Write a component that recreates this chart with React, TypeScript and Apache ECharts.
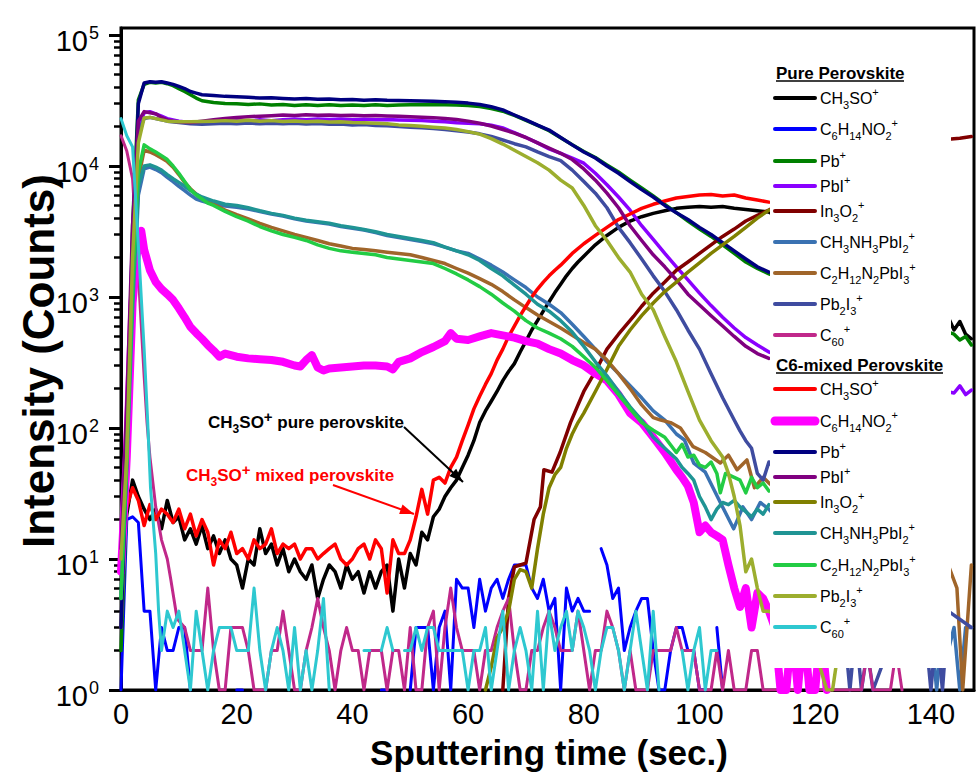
import React, { useEffect, useRef } from "react";
import * as echarts from "echarts";

type Pt = [number, number | null];

// ---------------- axes ----------------
const X_MAX = 147.45;
const X_TICKS = [0, 20, 40, 60, 80, 100, 120, 140];
const Y_MAX_EXP = 5.0534; // top of frame, a bit above 10^5
const Y_DECADES = [0, 1, 2, 3, 4, 5];
const MINOR_FACTORS = [2, 3, 4, 5, 6, 7, 8, 9];

// ---------------- Pure perovskite ----------------
const pureCH3SO: Pt[] = [
  [0, 8], [1, 22], [2, 40], [3, 30], [4, 24], [5, 20], [6, 24], [7, 17], [8, 28], [9, 19], [10, 21], [11, 14], [12, 17], [13, 13], [14, 18], [15, 12], [16, 15], [17, 11], [18, 14], [19, 10], [20, 9], [21, 6], [22, 10], [23, 9], [24, 17], [25, 11], [26, 13], [27, 9], [28, 12], [29, 8], [30, 10], [31, 8], [32, 7], [33, 9], [34, 5], [35, 7], [36, 9], [37, 8], [38, 6], [39, 9], [40, 7], [41, 8], [42, 5.5], [43, 8], [44, 6], [45, 8], [46, 9], [47, 4], [48, 10], [49, 6], [50, 11], [51, 9], [52, 16], [53, 14], [54, 21], [55, 24], [56, 30], [57, 35], [58, 40], [59, 50], [60, 62], [61, 80], [62, 110], [63, 135], [64, 160], [65, 190], [66, 230], [67, 270], [68, 310], [69, 380], [70, 460], [71, 560], [72, 660], [73, 780], [74, 920], [75, 1080], [76, 1250], [77, 1450], [78, 1650], [79, 1850], [80, 2050], [82, 2500], [84, 2950], [86, 3400], [88, 3800], [90, 4100], [92, 4350], [94, 4550], [96, 4750], [98, 4850], [100, 4900], [102, 4850], [104, 4900], [106, 4750], [108, 4650], [110, 4550], [112, 4450], [120, 3000], [130, 1500], [140, 800], [143, 700], [144, 560], [145, 650], [146, 520], [147, 480],
];
const pureC6H14NO2: Pt[] = [
  [0, 1], [1, 20], [2, 21], [3, 19], [4, 4], [5, 4], [6, 1], [7, 3], [8, 2], [9, 2], [10, 3], [11, 3], [12, 1], [13, null], [20, 1], [21, 1], [22, null], [45, 1], [46, 1], [47, null], [50, 1], [51, 3], [52, 3], [53, 3], [54, 1], [55, 3], [56, 4], [57, 1], [58, 7], [59, 6], [60, 6], [61, 3], [62, 7], [63, 4], [64, 6], [65, 7], [66, 5], [67, 7], [68, 9], [69, 9], [70, 9], [71, 6], [72, 5], [73, 7], [74, 4], [75, 5], [76, 1], [77, 6], [78, 4], [79, 5], [80, 4], [81, 4], [82, null], [83, 12], [84, 9], [85, 5], [86, 6], [87, 2], [88, 3], [89, 4], [90, 5], [91, 5], [92, 2], [93, 1], [94, 1], [95, 2], [96, 3], [97, 3], [98, 2], [99, 2], [100, 1], [101, 1], [102, null], [103, 3], [104, 1], [105, null],
];
const purePb: Pt[] = [
  [0, 2], [1, 30], [2, 3500], [3, 32000], [4, 42000], [5, 43500], [6, 43000], [7, 43500], [8, 42500], [9, 41000], [10, 39000], [11, 37000], [12, 35000], [13, 33000], [14, 31500], [16, 30500], [18, 30000], [20, 29800], [22, 29500], [24, 29800], [26, 29200], [28, 29500], [30, 29000], [32, 29400], [34, 29000], [36, 29300], [38, 29000], [40, 29200], [42, 29000], [44, 29300], [46, 29000], [48, 29200], [50, 29400], [52, 29300], [54, 29500], [56, 29400], [58, 29200], [60, 29000], [62, 28500], [64, 27500], [66, 26200], [68, 24300], [70, 22300], [72, 20400], [74, 18600], [76, 16400], [78, 14500], [80, 12900], [82, 11600], [84, 10200], [86, 9000], [88, 7800], [90, 6800], [92, 5900], [94, 5100], [96, 4400], [98, 3800], [100, 3300], [102, 2900], [104, 2500], [106, 2150], [108, 1850], [110, 1650], [112, 1500], [120, 1100], [130, 800], [140, 600], [144, 520], [145, 470], [146, 500], [147, 430],
];
const purePbI: Pt[] = [
  [0, 10], [1, 100], [2, 3000], [3, 20000], [4, 25500], [5, 26000], [6, 25000], [7, 24000], [8, 23000], [9, 22500], [10, 22000], [12, 21500], [14, 21500], [16, 21800], [18, 22000], [20, 22200], [22, 22000], [24, 22500], [26, 22200], [28, 22500], [30, 22800], [32, 22500], [34, 22800], [36, 22600], [38, 22800], [40, 22500], [42, 22700], [44, 22500], [46, 22600], [48, 22400], [50, 22300], [52, 22200], [54, 22000], [56, 21800], [58, 21400], [60, 21200], [62, 21000], [64, 20500], [66, 19500], [68, 18000], [70, 16500], [72, 15000], [74, 13500], [76, 12500], [78, 11500], [80, 10500], [82, 8800], [84, 7200], [86, 5800], [88, 4600], [90, 3500], [92, 2750], [94, 2150], [96, 1700], [98, 1350], [100, 1070], [102, 860], [104, 700], [106, 580], [108, 490], [110, 430], [112, 380], [120, 300], [130, 240], [140, 200], [144, 185], [145, 210], [146, 180], [147, 195],
];
const pureIn3O2: Pt[] = [
  [66, 1], [67, 5], [68, 8.7], [69, 9], [70, 9.3], [71.4, 20], [72.5, 25], [73.1, 48], [74.5, 46], [75.9, 65], [77.7, 110], [79, 150], [80, 190], [82, 270], [84, 400], [86, 520], [88.6, 710], [90, 850], [92, 1070], [94, 1300], [96, 1600], [98, 1850], [100, 2150], [102, 2500], [104, 2900], [106, 3300], [108, 3800], [110, 4200], [112, 4600], [120, 8000], [130, 12000], [140, 15000], [143, 16000], [145, 16300], [147, 16800],
];
const pureCH3NH3PbI2: Pt[] = [
  [0, 3], [1, 30], [2, 600], [3, 6000], [4, 9500], [5, 9800], [6, 9400], [7, 8900], [8, 8200], [9, 7600], [10, 7000], [11, 6500], [12, 6000], [13, 5600], [14, 5400], [16, 5100], [18, 4950], [20, 4850], [22, 4700], [24, 4500], [26, 4300], [28, 4150], [30, 3950], [32, 3800], [34, 3700], [36, 3600], [38, 3450], [40, 3350], [42, 3250], [44, 3100], [46, 2950], [48, 2850], [50, 2750], [52, 2650], [54, 2550], [56, 2400], [58, 2250], [60, 2150], [62, 1950], [64, 1750], [66, 1550], [68, 1350], [70, 1180], [72, 1000], [74, 880], [76, 760], [78, 620], [80, 500], [82, 400], [84, 320], [86, 260], [88, 210], [90, 170], [92, 135], [94, 115], [96, 90], [97.4, 81], [99, 54], [101, 46], [103.6, 27], [105.9, 17], [107.5, 25], [109, 20], [110.5, 27], [112, 24], [120, 10], [130, 3], [140, 3], [141, 1], [142, 3], [143, 2], [144, 3], [145, 1], [146, 3], [147, 3],
];
const pureC2H12N2PbI3: Pt[] = [
  [0, 3], [1, 40], [2, 1000], [3, 8000], [4, 13200], [5, 12800], [6, 12200], [7, 11500], [8, 10800], [9, 9800], [10, 8600], [11, 7500], [12, 6700], [13, 6100], [14, 5700], [15, 5300], [16, 5100], [18, 4600], [20, 4250], [22, 3950], [24, 3650], [26, 3400], [28, 3200], [30, 3000], [32, 2850], [34, 2700], [36, 2550], [38, 2450], [40, 2350], [42, 2300], [44, 2250], [46, 2200], [48, 2150], [50, 2100], [52, 2000], [54, 1900], [56, 1800], [58, 1650], [60, 1520], [62, 1380], [64, 1250], [66, 1100], [68, 950], [70, 830], [72, 730], [74, 650], [76, 580], [78, 510], [80, 450], [82, 400], [84, 330], [86, 260], [88, 200], [90, 150], [92, 120], [93.3, 115], [95, 110], [96.7, 100], [98.9, 72], [101, 65], [103.6, 54], [105, 62], [106.5, 48], [108.2, 57], [109.5, 35], [111, 42], [112, 38], [120, 20], [130, 10], [140, 8], [143, 9], [144.5, 6], [145.5, 1], [147, 9],
];
const purePb2I3: Pt[] = [
  [0, 10], [1, 80], [2, 2500], [3, 18000], [4, 23000], [5, 23500], [6, 23000], [7, 22500], [8, 22000], [10, 21500], [12, 21000], [14, 20800], [16, 21000], [18, 21200], [20, 21000], [22, 21300], [24, 21000], [26, 21200], [28, 21000], [30, 21200], [32, 20900], [34, 21100], [36, 20800], [38, 20900], [40, 20600], [42, 20700], [44, 20400], [46, 20300], [48, 20000], [50, 19800], [52, 19600], [54, 19300], [56, 19000], [58, 18600], [60, 18200], [62, 17600], [64, 16800], [66, 15800], [68, 14800], [70, 14000], [72, 12800], [74, 11800], [76, 11000], [78, 9300], [80, 7600], [82, 6200], [84, 4800], [86, 3400], [88, 2600], [90, 1950], [92, 1450], [94, 1100], [96, 800], [98, 560], [100, 400], [102, 260], [104, 170], [106, 115], [107, 95], [108, 80], [109, 70], [110, 45], [111, 40], [112, 55], [120, 20], [124, 4], [125, 3], [126, 1], [127, 3], [128, 1], [129, 2], [130, 1], [135, 4], [139, 3], [140, 1], [141, 3], [142, 1], [143, 4], [147, 3],
];
const pureC60Head: Pt[] = [
  [0, 17000], [1, 13000], [2, 8000], [3, 1500], [4, 250], [4.5, 110], [5, 60], [6, 25], [7, 14], [8, 10], [8.6, 7], [9.7, 3.5],
];
const PURE_C60_TAIL_START = 11;
const pureC60Tail: (number | null)[] = [
  3, 2, 2, 2, 6, 2, 1, 1, 3, 3, 3, 2, 1, 1, 1, 2, 2, 4, 2, 1, 1, 2, 3, 5, 3, 2, 1, 2, 3, 2, 2, 1, 2, 2, 2, 1, 2, 2, 1, 3, 1, 1, 3, 4, 1, 3, 6, 3, 2, 2, 2, 1, 2, 2, 3, 4, 5, 2, 1, 1, 2, 2, 3, 4, 3, 2, 2, 2, 4, 2, 1, 2, 2, 4, 3, 2, 1, 2, 1, 1, 1, 2, 2, 2, 2, 3, 2, 2, 2, 1, 1, 1, 2, 1, 2, 1, 1, 1, 2, 2, 1, 1, 1, 1, 1, 1, 1, 2, 1, 1, 1, 1, 1, 1, 1, 1, 1, 1, 2, 1, 1, 1, 1, 2, 1,
];

// ---------------- C6-mixed perovskite ----------------
const mixedCH3SO: Pt[] = [
  [0, 12], [1, 25], [2, 35], [3, 28], [4, 18], [5, 26], [6, 20], [7, 24], [8, 22], [9, 19], [10, 24], [11, 17], [12, 22], [13, 15], [14, 20], [15, 16], [16, 9], [17, 14], [18, 12], [19, 16], [20, 11], [21, 12], [22, 10], [23, 14], [24, 12], [25, 13], [26, 17], [27, 11], [28, 13], [29, 12], [30, 13], [31, 10], [32, 12], [33, 12], [34, 10], [35, 11], [36, 12], [37, 13], [38, 10], [39, 9], [40, 10], [41, 12], [42, 13], [43, 10], [44, 14], [45, 12], [46, 5.5], [47, 14], [48, 11], [49, 11], [50, 14], [51, 21], [52, 34], [53, 22], [54, 40], [55, 42], [56, 38], [57, 50], [58, 60], [59, 80], [60, 105], [61, 140], [62, 175], [63, 215], [64, 260], [65, 330], [66, 400], [67, 500], [68, 600], [69, 720], [70, 850], [71, 1000], [72, 1150], [73, 1300], [74, 1450], [75, 1600], [76, 1750], [78, 2150], [80, 2550], [82, 2950], [84, 3400], [86, 3900], [88, 4300], [90, 4750], [92, 5100], [94, 5400], [96, 5700], [98, 5850], [100, 6000], [102, 6050], [104, 5900], [106, 6000], [108, 5700], [110, 5500], [112, 5300],
];
const mixedC6H14NO2: Pt[] = [
  [0, 8], [1, 60], [2, 900], [3, 2800], [3.5, 3200], [4, 2300], [5, 1600], [6, 1300], [7, 1150], [8, 1050], [9, 950], [10, 820], [11, 700], [12, 590], [13, 530], [14, 480], [15, 430], [16, 390], [17, 350], [18, 370], [19, 360], [20, 350], [22, 340], [24, 335], [26, 330], [28, 320], [30, 300], [31, 295], [32, 330], [33, 360], [34, 290], [35, 275], [36, 285], [38, 290], [40, 295], [42, 300], [44, 300], [46, 295], [47, 280], [48, 320], [50, 340], [52, 380], [54, 415], [56, 460], [57, 530], [58, 480], [60, 470], [62, 500], [64, 530], [66, 510], [68, 490], [70, 460], [72, 440], [74, 400], [76, 370], [78, 330], [80, 300], [82, 260], [84, 230], [86, 180], [88, 130], [90, 110], [92, 85], [94, 65], [96, 48], [97, 42], [98, 36], [99, 27], [100, 16], [101, 18], [102, 16], [103, 15], [104, 14], [105, 9], [106, 6], [107, 4.3], [108, 6], [109, 3], [110, 5.5], [111, 5], [112, 4], [113, 3], [114, 1], [115, 1], [116, 3], [117, 1], [118, 3], [119, 1], [120, 1], [121, 3], [122, 1], [123, null],
];
const mixedPb: Pt[] = [
  [0, 3], [1, 60], [2, 2500], [3, 30000], [4, 43000], [5, 44000], [6, 43500], [7, 44000], [8, 43000], [9, 42000], [10, 40500], [11, 39000], [12, 37000], [13, 36000], [14, 35000], [16, 34500], [18, 34000], [20, 33800], [22, 33500], [24, 33000], [26, 33200], [28, 32800], [30, 32500], [32, 32800], [34, 32300], [36, 32500], [38, 32000], [40, 32200], [42, 31800], [44, 32000], [46, 31700], [48, 31600], [50, 31500], [52, 31400], [54, 31200], [56, 31000], [58, 30600], [60, 30200], [62, 29500], [64, 28300], [66, 26800], [68, 24500], [70, 22500], [72, 20500], [74, 18800], [76, 16500], [78, 14500], [80, 12800], [82, 11500], [84, 10000], [86, 8800], [88, 7600], [90, 6600], [92, 5800], [94, 5000], [96, 4400], [98, 3900], [100, 3400], [102, 3000], [104, 2600], [106, 2250], [108, 1950], [110, 1700], [112, 1550],
];
const mixedPbI: Pt[] = [
  [0, 12], [1, 150], [2, 3500], [3, 22000], [4, 26000], [5, 25500], [6, 25000], [7, 23500], [8, 22500], [9, 22000], [10, 21800], [12, 21500], [14, 22000], [16, 22500], [18, 23000], [20, 23500], [22, 23800], [24, 24000], [26, 24200], [28, 24500], [30, 24300], [32, 24600], [34, 24400], [36, 24500], [38, 24300], [40, 24400], [42, 24200], [44, 24300], [46, 24100], [48, 24000], [50, 23800], [52, 23600], [54, 23400], [56, 23000], [58, 22600], [60, 22000], [62, 21200], [64, 20200], [66, 19000], [68, 17800], [70, 16500], [72, 15000], [74, 13700], [76, 12500], [78, 11200], [80, 9500], [82, 7800], [84, 6200], [86, 4800], [88, 3500], [90, 2700], [92, 2100], [94, 1700], [96, 1350], [98, 1050], [100, 870], [102, 720], [104, 600], [106, 500], [108, 420], [110, 370], [112, 340],
];
const mixedIn3O2: Pt[] = [
  [63, 1], [64, 1.5], [65, 2.5], [66, 3], [67, 4], [68, 7], [69, 8.3], [70, 8], [71, 6], [72, 12], [73, 22], [74, 35], [75, 44], [76, 50], [77, 70], [78, 90], [79, 110], [80, 130], [82, 190], [84, 280], [86, 420], [88, 560], [90, 720], [92, 900], [94, 1100], [96, 1300], [98, 1550], [100, 1820], [102, 2150], [104, 2500], [106, 2900], [108, 3400], [110, 4000], [112, 4600],
];
const mixedCH3NH3PbI2: Pt[] = [
  [0, 5], [1, 50], [2, 800], [3, 7000], [4, 10000], [5, 10200], [6, 9800], [7, 9300], [8, 8600], [9, 8000], [10, 7500], [11, 7000], [12, 6500], [13, 6100], [14, 5800], [16, 5400], [18, 5100], [20, 5000], [22, 4800], [24, 4550], [26, 4350], [28, 4200], [30, 4000], [32, 3850], [34, 3750], [36, 3650], [38, 3500], [40, 3400], [42, 3280], [44, 3150], [46, 3000], [48, 2900], [50, 2800], [52, 2700], [54, 2600], [56, 2400], [58, 2250], [60, 2100], [62, 1900], [64, 1650], [66, 1450], [68, 1230], [70, 1050], [72, 880], [74, 780], [76, 660], [78, 540], [80, 420], [82, 320], [84, 250], [86, 190], [88, 145], [90, 115], [92, 85], [94, 70], [96, 58], [97, 50], [98, 45], [99, 40], [100, 30], [101, 25], [102, 20], [103, 24], [104, 27], [105, 26], [106, 28], [107, 25], [108, 23], [109, 21], [110, 24], [111, 22], [112, 26],
];
const mixedC2H12N2PbI3: Pt[] = [
  [0, 5], [1, 60], [2, 1200], [3, 9000], [4, 14500], [5, 13500], [6, 12800], [7, 12000], [8, 11200], [9, 10000], [10, 8800], [11, 7600], [12, 6600], [13, 6000], [14, 5600], [15, 5200], [16, 5000], [18, 4500], [20, 4100], [22, 3800], [24, 3450], [26, 3200], [28, 3000], [30, 2850], [32, 2700], [34, 2500], [36, 2350], [38, 2250], [40, 2200], [42, 2150], [44, 2100], [46, 2000], [48, 1950], [50, 1900], [52, 1850], [54, 1800], [56, 1650], [58, 1500], [60, 1350], [62, 1200], [64, 1050], [66, 900], [68, 780], [70, 660], [72, 580], [74, 530], [76, 480], [78, 420], [80, 350], [82, 290], [84, 230], [86, 180], [88, 140], [90, 110], [92, 96], [94, 85], [96, 65], [97, 75], [98, 60], [99, 62], [100, 52], [101, 50], [102, 55], [103, 45], [103.6, 32], [104.5, 45], [106, 42], [107, 40], [108, 32], [109, 42], [110, 35], [111, 38], [112, 33],
];
const mixedPb2I3: Pt[] = [
  [0, 10], [1, 60], [2, 2000], [3, 15000], [4, 23300], [5, 23500], [6, 23000], [7, 22500], [8, 22000], [10, 21800], [12, 21800], [14, 21900], [16, 22000], [18, 22200], [20, 22000], [22, 22300], [24, 22000], [26, 22200], [28, 21900], [30, 22100], [32, 21800], [34, 22000], [36, 21700], [38, 21800], [40, 21500], [42, 21400], [44, 21200], [46, 21000], [48, 20600], [50, 20400], [52, 20100], [54, 19800], [56, 19500], [58, 19000], [60, 18300], [62, 17500], [64, 16200], [66, 14700], [68, 13200], [70, 11800], [72, 10600], [74, 9300], [76, 7800], [78, 6800], [80, 5000], [82, 3500], [84, 2700], [86, 2000], [88, 1550], [90, 1050], [92, 800], [94, 500], [96, 320], [98, 190], [100, 115], [102, 80], [104, 60], [105, 45], [106, 30], [107, 18], [108, 8], [109, 10], [110, 6], [111, 4], [112, 4], [116, 3], [120, 2], [122, 1], [123, 1], [124, 2], [125, null],
];
const mixedC60Head: Pt[] = [
  [0, 23000], [1, 17000], [2, 14000], [3, 2500], [4, 400], [4.6, 115], [5.1, 35], [6, 11], [6.5, 4], [7, 2],
];
const MIXED_C60_TAIL_START = 8;
const mixedC60Tail: (number | null)[] = [
  4, 3, 4, 2, 1, 4, 2, 1, 2, 3, 3, 3, 2, 2, 2, 6, 2, 1, 2, 3, 2, 1, 3, 1, 2, 1, 2, 5, 1, null, null, 2, null, null, 2, 2, null, 2, 3, 2, null, 2, 2, 3, 2, 3, 3, 2, 2, 2, 2, 2, 1, 2, 2, 3, 1, 2, 4, 1, 2, 3, 2, 1, 4, 1, 4, 2, 3, 4, 2, 4, 3, 2, 1, 2, 3, 3, 2, 1, 2, 4, 2, 1, 4, 1, null, null, null, 2, 1, 2, 3, 1, 2, 2,
];

// legend labels: "_n" = subscript, "^+" = superscript
const SERIES_DEFS = [
  { group: "pure", label: "CH_3SO^+", color: "#000000", width: 3.5, data: pureCH3SO },
  { group: "pure", label: "C_6H_14NO_2^+", color: "#0000ff", width: 3, data: pureC6H14NO2 },
  { group: "pure", label: "Pb^+", color: "#008000", width: 3.5, data: purePb },
  { group: "pure", label: "PbI^+", color: "#8a00ff", width: 3.5, data: purePbI },
  { group: "pure", label: "In_3O_2^+", color: "#800000", width: 3.5, data: pureIn3O2 },
  { group: "pure", label: "CH_3NH_3PbI_2^+", color: "#3a72b2", width: 3.5, data: pureCH3NH3PbI2 },
  { group: "pure", label: "C_2H_12N_2PbI_3^+", color: "#a0652a", width: 3.5, data: pureC2H12N2PbI3 },
  { group: "pure", label: "Pb_2I_3^+", color: "#3f4ca0", width: 3.5, data: purePb2I3 },
  { group: "pure", label: "C_60^+", color: "#c0288a", width: 3, data: [...pureC60Head, ...pureC60Tail.map((v, i) => [PURE_C60_TAIL_START + i, v] as Pt)] },
  { group: "mixed", label: "CH_3SO^+", color: "#ff0000", width: 3.5, data: mixedCH3SO },
  { group: "mixed", label: "C_6H_14NO_2^+", color: "#ff00ff", width: 8, data: mixedC6H14NO2 },
  { group: "mixed", label: "Pb^+", color: "#000080", width: 3.5, data: mixedPb },
  { group: "mixed", label: "PbI^+", color: "#800080", width: 3.5, data: mixedPbI },
  { group: "mixed", label: "In_3O_2^+", color: "#808000", width: 3.5, data: mixedIn3O2 },
  { group: "mixed", label: "CH_3NH_3PbI_2^+", color: "#1f9494", width: 3.5, data: mixedCH3NH3PbI2 },
  { group: "mixed", label: "C_2H_12N_2PbI_3^+", color: "#22cc44", width: 3.5, data: mixedC2H12N2PbI3 },
  { group: "mixed", label: "Pb_2I_3^+", color: "#9cae2e", width: 3.5, data: mixedPb2I3 },
  { group: "mixed", label: "C_60^+", color: "#2ec8d0", width: 3, data: [...mixedC60Head, ...mixedC60Tail.map((v, i) => [MIXED_C60_TAIL_START + i, v] as Pt)] },
];

const FONT = "'Liberation Sans', Arial, Helvetica, sans-serif";

// layout (pixels)
const LEGEND_BOX = { x: 770, y: 58, w: 181, h: 610 };
const LEGEND_LINE_X = [775, 815];
const LEGEND_TEXT_X = 820;
const PURE_TITLE_Y = 73;
const MIXED_TITLE_Y = 365;
const PURE_ROWS = [98, 129, 161, 186, 211, 242, 273, 304, 335];
const MIXED_ROWS = [389, 421, 452, 477, 502, 533, 565, 596, 627];

function toRich(s: string, n = "n", sub = "sub", sup = "sup"): string {
  let out = "";
  let buf = "";
  const flush = () => {
    if (buf) out += `{${n}|${buf}}`;
    buf = "";
  };
  for (let i = 0; i < s.length; i++) {
    const ch = s[i];
    if (ch === "_") {
      flush();
      let j = i + 1;
      let d = "";
      while (j < s.length && /[0-9]/.test(s[j])) {
        d += s[j];
        j++;
      }
      out += `{${sub}|${d}}`;
      i = j - 1;
    } else if (ch === "^") {
      flush();
      out += `{${sup}|${s[i + 1]}}`;
      i++;
    } else buf += ch;
  }
  flush();
  return out;
}

const legendRich = {
  n: { fontSize: 16, fontFamily: FONT, fill: "#000", lineHeight: 24, verticalAlign: "middle" },
  sub: { fontSize: 11, fontFamily: FONT, fill: "#000", lineHeight: 12, verticalAlign: "bottom" },
  sup: { fontSize: 11, fontFamily: FONT, fill: "#000", lineHeight: 12, verticalAlign: "top" },
};

function arrowHead(x1: number, y1: number, x2: number, y2: number, len = 14, half = 5) {
  const dx = x2 - x1;
  const dy = y2 - y1;
  const L = Math.hypot(dx, dy);
  const ux = dx / L;
  const uy = dy / L;
  const bx = x2 - ux * len;
  const by = y2 - uy * len;
  return [
    [x2, y2],
    [bx - uy * half, by + ux * half],
    [bx + uy * half, by - ux * half],
  ];
}

export default function App() {
  const ref = useRef<HTMLDivElement>(null);

  useEffect(() => {
    document.body.style.margin = "0";
    if (!ref.current) return;
    const chart = echarts.init(ref.current, null, { renderer: "svg" });

    const minor: number[] = [];
    Y_DECADES.forEach((e) =>
      MINOR_FACTORS.forEach((f) => {
        const v = e + Math.log10(f);
        if (v < Y_MAX_EXP) minor.push(v);
      })
    );

    const series = SERIES_DEFS.map((d) => ({
      type: "line",
      name: d.label,
      showSymbol: false,
      symbol: "none",
      connectNulls: false,
      yAxisIndex: 0,
      lineStyle: { color: d.color, width: d.width, join: "round", cap: "round" },
      itemStyle: { color: d.color },
      emphasis: { disabled: true },
      data: d.data.map(([t, c]) => [t, c == null || c <= 0 ? "-" : Math.log10(c)]),
    }));

    const graphics: any[] = [];
    graphics.push({
      type: "rect",
      z: 50,
      shape: { x: LEGEND_BOX.x, y: LEGEND_BOX.y, width: LEGEND_BOX.w, height: LEGEND_BOX.h },
      style: { fill: "#ffffff" },
    });
    const titles = [
      { text: "Pure Perovskite", y: PURE_TITLE_Y, w: 128 },
      { text: "C6-mixed Perovskite", y: MIXED_TITLE_Y, w: 167 },
    ];
    titles.forEach((t) => {
      graphics.push({
        type: "text",
        z: 60,
        x: 776,
        y: t.y,
        style: { text: t.text, fontSize: 17, fontWeight: "bold", fontFamily: FONT, fill: "#000", align: "left", verticalAlign: "middle" },
      });
      graphics.push({
        type: "line",
        z: 60,
        shape: { x1: 776, y1: t.y + 8, x2: 776 + t.w, y2: t.y + 8 },
        style: { stroke: "#000", lineWidth: 1.5 },
      });
    });
    let pi = 0;
    let mi = 0;
    SERIES_DEFS.forEach((d) => {
      const y = d.group === "pure" ? PURE_ROWS[pi++] : MIXED_ROWS[mi++];
      const thick = d.width > 5;
      graphics.push({
        type: "line",
        z: 60,
        shape: { x1: LEGEND_LINE_X[0], y1: y, x2: LEGEND_LINE_X[1], y2: y },
        style: { stroke: d.color, lineWidth: thick ? 9 : 4, lineCap: "round" },
      });
      graphics.push({
        type: "text",
        z: 60,
        x: LEGEND_TEXT_X,
        y: y,
        style: { text: toRich(d.label), rich: legendRich, align: "left", verticalAlign: "middle", fontFamily: FONT },
      });
    });

    // annotations
    const annRich = (color: string) => ({
      b: { fontSize: 17, fontWeight: "bold", fontFamily: FONT, fill: color, lineHeight: 26, verticalAlign: "middle" },
      s: { fontSize: 12, fontWeight: "bold", fontFamily: FONT, fill: color, lineHeight: 13, verticalAlign: "bottom" },
      p: { fontSize: 15, fontWeight: "bold", fontFamily: FONT, fill: color, lineHeight: 15, verticalAlign: "top" },
    });
    const annotations = [
      { text: "CH_3SO^+ pure perovskite", color: "#000", x: 306, y: 422, arrow: [404, 427, 463, 482] },
      { text: "CH_3SO^+ mixed perovskite", color: "#ff0000", x: 290, y: 475, arrow: [333, 485, 414, 514] },
    ];
    annotations.forEach((a) => {
      graphics.push({
        type: "text",
        z: 60,
        x: a.x,
        y: a.y,
        style: { text: toRich(a.text, "b", "s", "p"), rich: annRich(a.color), align: "center", verticalAlign: "middle" },
      });
      const [x1, y1, x2, y2] = a.arrow;
      graphics.push({
        type: "line",
        z: 60,
        shape: { x1, y1, x2, y2 },
        style: { stroke: a.color, lineWidth: 2 },
      });
      graphics.push({
        type: "polygon",
        z: 60,
        shape: { points: arrowHead(x1, y1, x2, y2) },
        style: { fill: a.color },
      });
    });

    // axis titles
    graphics.push({
      type: "text",
      z: 60,
      x: 38,
      y: 361,
      rotation: Math.PI / 2,
      style: { text: "Intensity (Counts)", fontSize: 44, lineHeight: 44, fontWeight: "bold", fontFamily: FONT, fill: "#000", align: "center", verticalAlign: "middle" },
    });
    graphics.push({
      type: "text",
      z: 60,
      x: 549,
      y: 752,
      style: { text: "Sputtering time (sec.)", fontSize: 35, lineHeight: 35, fontWeight: "bold", fontFamily: FONT, fill: "#000", align: "center", verticalAlign: "middle" },
    });

    const option: any = {
      animation: false,
      backgroundColor: "#ffffff",
      grid: { left: 121, right: 6, top: 28, bottom: 91, show: true, borderColor: "#000", borderWidth: 3, backgroundColor: "transparent", containLabel: false },
      xAxis: {
        type: "value",
        min: 0,
        max: X_MAX,
        interval: 20,
        axisLine: { show: true, onZero: false, lineStyle: { color: "#000", width: 3 } },
        axisTick: { show: false },
        splitLine: { show: false },
        axisLabel: {
          fontSize: 29,
          lineHeight: 29,
          color: "#000",
          fontFamily: FONT,
          margin: 9,
          customValues: X_TICKS,
          formatter: (v: number) => (Math.abs(v - Math.round(v)) < 1e-6 && Math.round(v) % 20 === 0 ? String(Math.round(v)) : ""),
        },
      },
      yAxis: [
        {
          type: "value",
          min: 0,
          max: Y_MAX_EXP,
          interval: 1,
          axisLine: { show: true, onZero: false, lineStyle: { color: "#000", width: 3 } },
          axisTick: { show: true, length: 12, lineStyle: { color: "#000", width: 3 }, customValues: Y_DECADES },
          splitLine: { show: false },
          axisLabel: {
            margin: 22,
            customValues: Y_DECADES,
            formatter: (v: number) => (Math.abs(v - Math.round(v)) < 1e-6 ? `{b|10}{s|${Math.round(v)}}` : ""),
            rich: {
              b: { fontSize: 29, fontFamily: FONT, color: "#000", lineHeight: 30, padding: [12, 0, 0, 0] },
              s: { fontSize: 18, fontFamily: FONT, color: "#000", lineHeight: 18, verticalAlign: "top", padding: [4, 0, 0, 1] },
            },
          },
        },
        {
          type: "value",
          min: 0,
          max: Y_MAX_EXP,
          position: "left",
          axisLine: { show: false },
          splitLine: { show: false },
          axisLabel: { show: false },
          axisTick: { show: true, length: 7, lineStyle: { color: "#000", width: 2.5 }, customValues: minor },
        },
      ],
      series,
      graphic: graphics,
    };

    chart.setOption(option);
    return () => chart.dispose();
  }, []);

  return <div ref={ref} style={{ width: 980, height: 781 }} />;
}
